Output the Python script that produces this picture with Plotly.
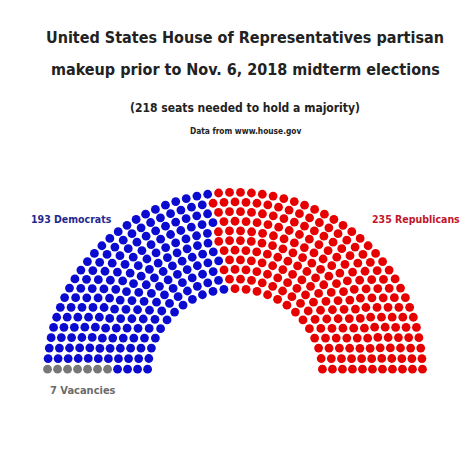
import math
import plotly.graph_objs as go

# seat data (in order around the arc, left to right)
parties = ['Vacant', 'Democrats', 'Republicans']
seats = [7, 193, 235]
colors = ['#777777', '#0a0ad0', '#e60000']
label_text = ['7 Vacancies', '193 Democrats', '235 Republicans']
label_colors = ['#6b6b6b', '#1f2a8f', '#c0162c']

# parliament arch layout (rows of arcs)
Totals = [3, 15, 33, 61, 95, 138, 189, 247, 313, 388, 469, 559, 657]
n = sum(seats)
rows = next(i + 1 for i, t in enumerate(Totals) if t >= n)
radius = 0.4 / rows
poslist = []
for i in range(1, rows):
    R = (3.0 * rows + 4.0 * i - 2.0) / (4.0 * rows)
    J = int(float(n) / Totals[rows - 1] * math.pi / (2 * math.asin(2.0 / (3.0 * rows + 4.0 * i - 2.0))))
    for j in range(J):
        a = j * (math.pi - 2.0 * math.sin(radius / R)) / (J - 1.0) + math.sin(radius / R)
        poslist.append((a, math.cos(a) * R, math.sin(a) * R))
J = n - len(poslist)
R = (7.0 * rows - 2.0) / (4.0 * rows)
for j in range(J):
    a = j * (math.pi - 2.0 * math.sin(radius / R)) / (J - 1.0) + math.sin(radius / R)
    poslist.append((a, math.cos(a) * R, math.sin(a) * R))
poslist.sort(reverse=True)

data = []
k = 0
for p, s, c in zip(parties, seats, colors):
    pts = poslist[k:k + s]
    k += s
    data.append(go.Scatter(
        x=[q[1] for q in pts], y=[q[2] for q in pts],
        mode='markers', name=p,
        marker=dict(size=8.8, color=c, line=dict(width=0)),
        hoverinfo='skip'
    ))

W = 474
sx, sy = 110.0, 106.0  # px per unit
cx, cy = 227.0, 365.0   # pixel position of arc centre

font = 'DejaVu Sans Condensed, Roboto Condensed, Roboto, sans-serif'
ann = [
    dict(x=0.5, y=1 - 29 / W, text='<b>United States House of Representatives partisan</b>', font=dict(size=16, color='#222222')),
    dict(x=0.5, y=1 - 62 / W, text='<b>makeup prior to Nov. 6, 2018 midterm elections</b>', font=dict(size=16, color='#222222')),
    dict(x=0.5, y=1 - 100 / W, text='<b>(218 seats needed to hold a majority)</b>', font=dict(size=12, color='#222222')),
    dict(x=0.5, y=1 - 123 / W, text='<b>Data from www.house.gov</b>', font=dict(size=8.3, color='#222222')),
    dict(x=64 / W, y=1 - 211 / W, text='<b>' + label_text[1] + '</b>', font=dict(size=10.5, color=label_colors[1])),
    dict(x=408 / W, y=1 - 211 / W, text='<b>' + label_text[2] + '</b>', font=dict(size=10.5, color=label_colors[2])),
    dict(x=75 / W, y=1 - 382 / W, text='<b>' + label_text[0] + '</b>', font=dict(size=11, color=label_colors[0])),
]
for a in ann:
    a.update(xref='paper', yref='paper', showarrow=False, xanchor='center', yanchor='middle')
    a['font']['family'] = font

layout = go.Layout(
    width=W, height=W,
    margin=dict(l=0, r=0, t=0, b=0),
    paper_bgcolor='white', plot_bgcolor='white',
    showlegend=False,
    xaxis=dict(range=[-cx / sx, (W - cx) / sx], visible=False, fixedrange=True),
    yaxis=dict(range=[-(W - cy) / sy, cy / sy], visible=False, fixedrange=True),
    annotations=ann,
)

fig = go.Figure(data=data, layout=layout)
fig.write_html('out.html')
